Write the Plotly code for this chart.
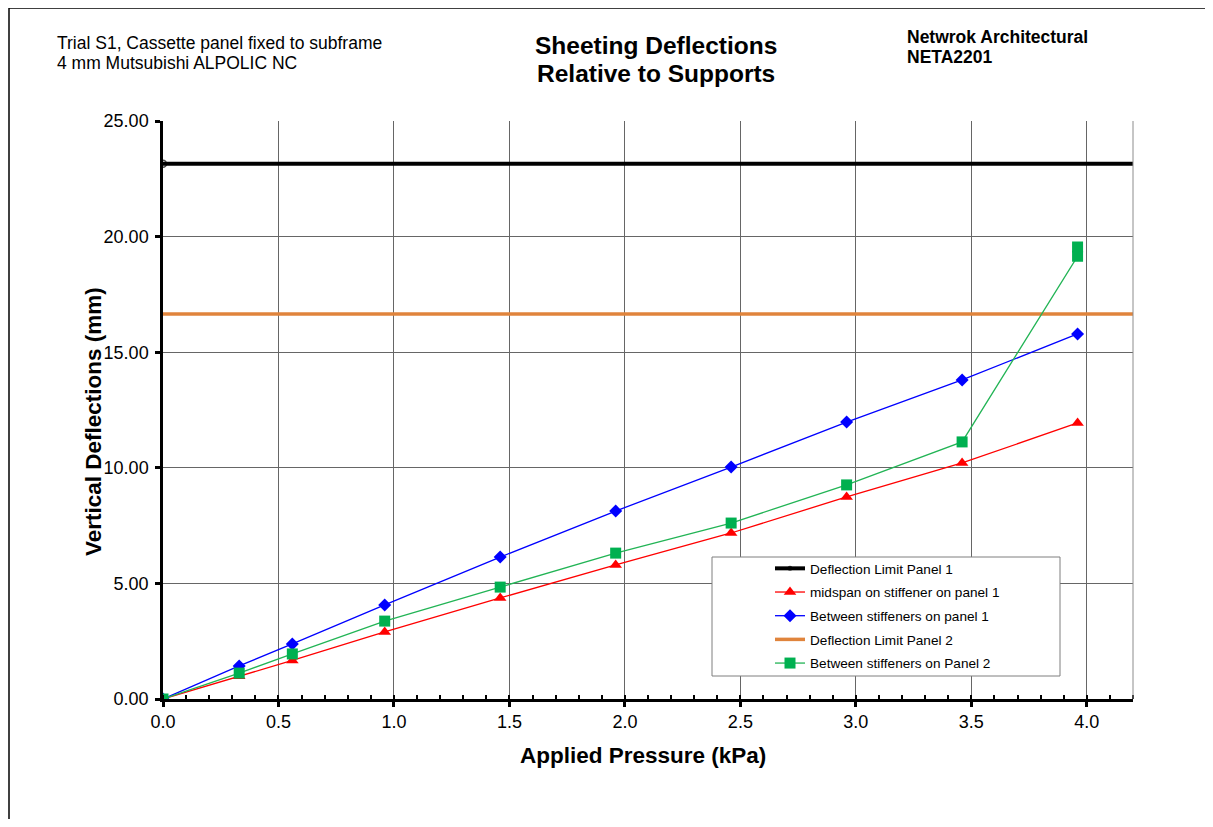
import plotly.graph_objects as go

pressure = [0.0, 0.33, 0.56, 0.96, 1.46, 1.96, 2.46, 2.96, 3.46, 3.96]
midspan_p1 = [0.0, 0.98, 1.67, 2.90, 4.37, 5.80, 7.18, 8.74, 10.21, 11.94]
between_p1 = [0.0, 1.43, 2.38, 4.07, 6.14, 8.13, 10.03, 11.98, 13.80, 15.79]
pressure_p2 = [0.0, 0.33, 0.56, 0.96, 1.46, 1.96, 2.46, 2.96, 3.46, 3.96, 3.96]
between_p2 = [0.0, 1.12, 1.95, 3.37, 4.84, 6.31, 7.61, 9.26, 11.12, 19.15, 19.55]
limit_x = [0.0, 4.2]
limit_p1 = [23.15, 23.15]
limit_p2 = [16.65, 16.65]

FONT = "Liberation Sans, Arial, sans-serif"

fig = go.Figure()
fig.add_trace(go.Scatter(
    x=limit_x, y=limit_p1, name="Deflection Limit Panel 1", legendgroup="a",
    mode="lines+markers", line=dict(color="black", width=4),
    marker=dict(symbol="circle-open", size=[7, 0], color="black", line=dict(width=1.5))))
fig.add_trace(go.Scatter(
    x=pressure, y=midspan_p1, name="midspan on stiffener on panel 1", legendgroup="b",
    mode="lines+markers", line=dict(color="#FF0000", width=1.3),
    marker=dict(symbol="triangle-up", size=11, color="#FF0000")))
fig.add_trace(go.Scatter(
    x=pressure, y=between_p1, name="Between stiffeners on panel 1", legendgroup="c",
    mode="lines+markers", line=dict(color="#0000FF", width=1.3),
    marker=dict(symbol="diamond", size=10, color="#0000FF")))
fig.add_trace(go.Scatter(
    x=limit_x, y=limit_p2, name="Deflection Limit Panel 2", legendgroup="d",
    mode="lines", line=dict(color="#E0843C", width=3.5)))
fig.add_trace(go.Scatter(
    x=pressure_p2, y=between_p2, name="Between stiffeners on Panel 2", legendgroup="e",
    mode="lines+markers", line=dict(color="#22B455", width=1.3),
    marker=dict(symbol="square", size=11, color="#00B050")))

OFF = 8  # page body margin
W, H = 1197, 811
L, T = 163 - OFF, 121 - OFF
R = W - (1133 - OFF)
B = H - (699 - OFF)
pw, ph = W - L - R, H - T - B

def px(x):
    return (x - OFF - L) / pw

def py(y):
    return (H - B - (y - OFF)) / ph

shapes = [
    dict(type="rect", xref="paper", yref="paper", x0=px(712), x1=px(1060), y0=py(676), y1=py(557),
         line=dict(color="#7f7f7f", width=1), fillcolor="white", layer="above"),
    dict(type="line", xref="paper", yref="paper", x0=1, x1=1, y0=0, y1=1,
         line=dict(color="#8c8c8c", width=1)),
    dict(type="line", xref="paper", yref="paper", x0=px(9), x1=px(9), y0=py(OFF + H), y1=py(8),
         line=dict(color="black", width=1.5)),
    dict(type="line", xref="paper", yref="paper", x0=px(9), x1=px(OFF + W), y0=py(8), y1=py(8),
         line=dict(color="black", width=1.5)),
]

def ann(text, x, y, size, xanchor="left", bold=False, angle=0):
    t = f"<b>{text}</b>" if bold else text
    return dict(text=t, xref="paper", yref="paper", x=px(x), y=py(y), xanchor=xanchor,
                yanchor="middle", showarrow=False, textangle=angle,
                font=dict(family=FONT, size=size, color="black"))

annotations = [
    ann("Trial S1, Cassette panel fixed to subframe", 55, 43, 17.5),
    ann("4 mm Mutsubishi ALPOLIC NC", 55, 63, 17.5),
    ann("Sheeting Deflections", 656, 46, 24.5, "center", True),
    ann("Relative to Supports", 656, 74, 24.5, "center", True),
    ann("Netwrok Architectural", 905, 37, 17.5, "left", True),
    ann("NETA2201", 905, 57, 17.5, "left", True),
    ann("Vertical Deflections (mm)", 93, 422, 22.5, "center", True, -90),
    ann("Applied Pressure (kPa)", 643, 755, 22.5, "center", True),
]

fig.update_layout(
    width=W, height=H,
    margin=dict(l=L, r=R, t=T, b=B, autoexpand=False),
    paper_bgcolor="white", plot_bgcolor="white",
    font=dict(family=FONT, size=18, color="black"),
    showlegend=True,
    legend=dict(x=px(770), y=py(553), xanchor="left", yanchor="top",
                bgcolor="rgba(0,0,0,0)", borderwidth=0, tracegroupgap=3,
                font=dict(family=FONT, size=13.6, color="black")),
    shapes=shapes, annotations=annotations,
    xaxis=dict(range=[0, 4.2], dtick=0.5, tick0=0, tickformat=".1f",
               showgrid=True, gridcolor="#666666", gridwidth=1,
               showline=True, linecolor="black", linewidth=2.5,
               ticks="outside", ticklen=5, tickwidth=2.5, tickcolor="black",
               minor=dict(dtick=0.1, ticks="inside", ticklen=4, tickwidth=2, tickcolor="black", showgrid=False),
               zeroline=False, tickfont=dict(size=18)),
    yaxis=dict(range=[0, 25], dtick=5, tick0=0, tickformat=".2f",
               showgrid=True, gridcolor="#666666", gridwidth=1,
               showline=True, linecolor="black", linewidth=2.5,
               ticks="outside", ticklen=5, tickwidth=2.5, tickcolor="black",
               zeroline=False, tickfont=dict(size=18), ticklabelstandoff=3),
)

fig.write_html("out.html", config={"displayModeBar": False})
